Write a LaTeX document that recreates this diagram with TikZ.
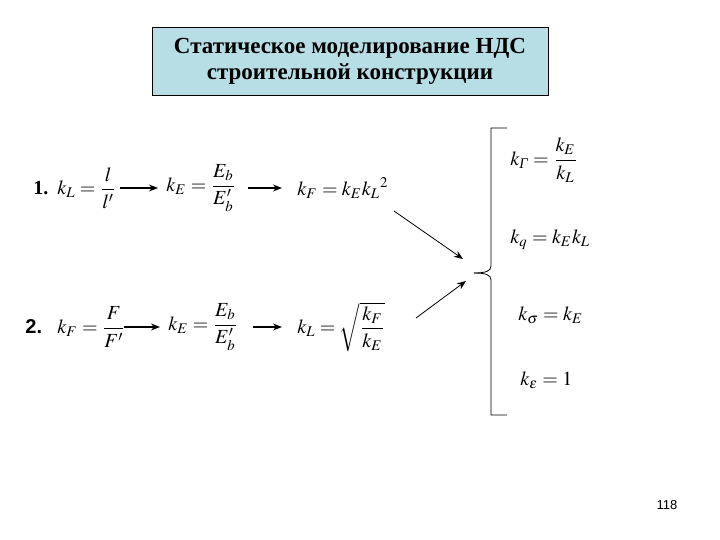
\documentclass[tikz,border=0pt]{standalone}
\usepackage{amsmath}
\usepackage{mathptmx}
\usepackage{fontspec}
\setmainfont{Liberation Serif}
\newfontfamily\arialfont{Liberation Sans}
\usetikzlibrary{arrows.meta}
\definecolor{titlefill}{RGB}{184,222,229}

\begin{document}
\begin{tikzpicture}[
    x=0.5pt, y=-0.5pt,
    >={Stealth[length=4.5pt,width=3.5pt]},
    title/.style={draw, fill=titlefill, minimum width=198pt, minimum height=34pt,
                  align=center, font=\fontsize{11.5}{13}\selectfont\bfseries},
    eq/.style ={anchor=west, inner sep=0pt, font=\fontsize{10}{12}\selectfont},
    num/.style={anchor=west, inner sep=0pt, font=\fontsize{10}{12}\selectfont\bfseries},
    df/.style ={->, semithick},
    bf/.style ={->, thin}
  ]
  \useasboundingbox (0,0) rectangle (720,540);

  % --- Titulo ---
  \node[title] (title) at (350,61)
      {Статическое моделирование НДС\\строительной конструкции};

  % --- Fila 1 ---
  \node[num] (n1)   at (33,188)  {1.};
  \node[eq]  (r1kl) at (57,188)  {$k_L=\dfrac{l}{l'}$};
  \node[eq]  (r1ke) at (166,188) {$k_E=\dfrac{E_b}{E'_b}$};
  \node[eq]  (r1kf) at (297,188) {$k_F=k_E{k_L}^{2}$};

  % --- Fila 2 ---
  \node[num, font=\fontsize{10}{12}\selectfont\bfseries\arialfont] (n2) at (25,327) {2.};
  \node[eq]  (r2kf) at (57,327)  {$k_F=\dfrac{F}{F'}$};
  \node[eq]  (r2ke) at (168,327) {$k_E=\dfrac{E_b}{E'_b}$};
  \node[eq]  (r2kl) at (297,327) {$k_L=\sqrt{\dfrac{k_F}{k_E}}$};

  % --- Columna derecha ---
  \node[eq] (kg) at (510,160) {$k_{\text{\itshape Γ}}=\dfrac{k_E}{k_L}$};
  \node[eq] (kq) at (510,240) {$k_q=k_Ek_L$};
  \node[eq] (ks) at (518,315) {$k_\sigma=k_E$};
  \node[eq] (kk) at (520,380) {$k_\varepsilon=1$};

  % --- Llave ---
  \coordinate (brace) at (474,273);
  \draw[thin] (507,128) -| (491,266) .. controls (491,271) and (486,273) .. (brace);
  \draw[thin] (brace) .. controls (486,273) and (491,275) .. (491,280) |- (507,415);

  % --- Flechas ---
  \draw[df, shorten <=1.5pt, shorten >=4pt] (r1kl.east) -- (r1kl.east -| r1ke.west);
  \draw[df, shorten <=5.5pt, shorten >=7.5pt] (r1ke.east) -- (r1ke.east -| r1kf.west);
  \draw[df, shorten <=-1pt, shorten >=4pt] (r2kf.east) -- (r2kf.east -| r2ke.west);
  \draw[df, shorten <=7pt, shorten >=7.5pt] (r2ke.east) -- (r2ke.east -| r2kl.west);

  \coordinate (a1s) at (394,211);
  \coordinate (a1e) at (463,259);
  \coordinate (a2s) at (416,318);
  \coordinate (a2e) at (466,281);
  \draw[bf] (a1s) -- (a1e);
  \draw[bf] (a2s) -- (a2e);

  % --- Pagina ---
  \node[font=\fontsize{6.5}{8}\selectfont\arialfont] (page) at (667,505) {118};
\end{tikzpicture}
\end{document}
